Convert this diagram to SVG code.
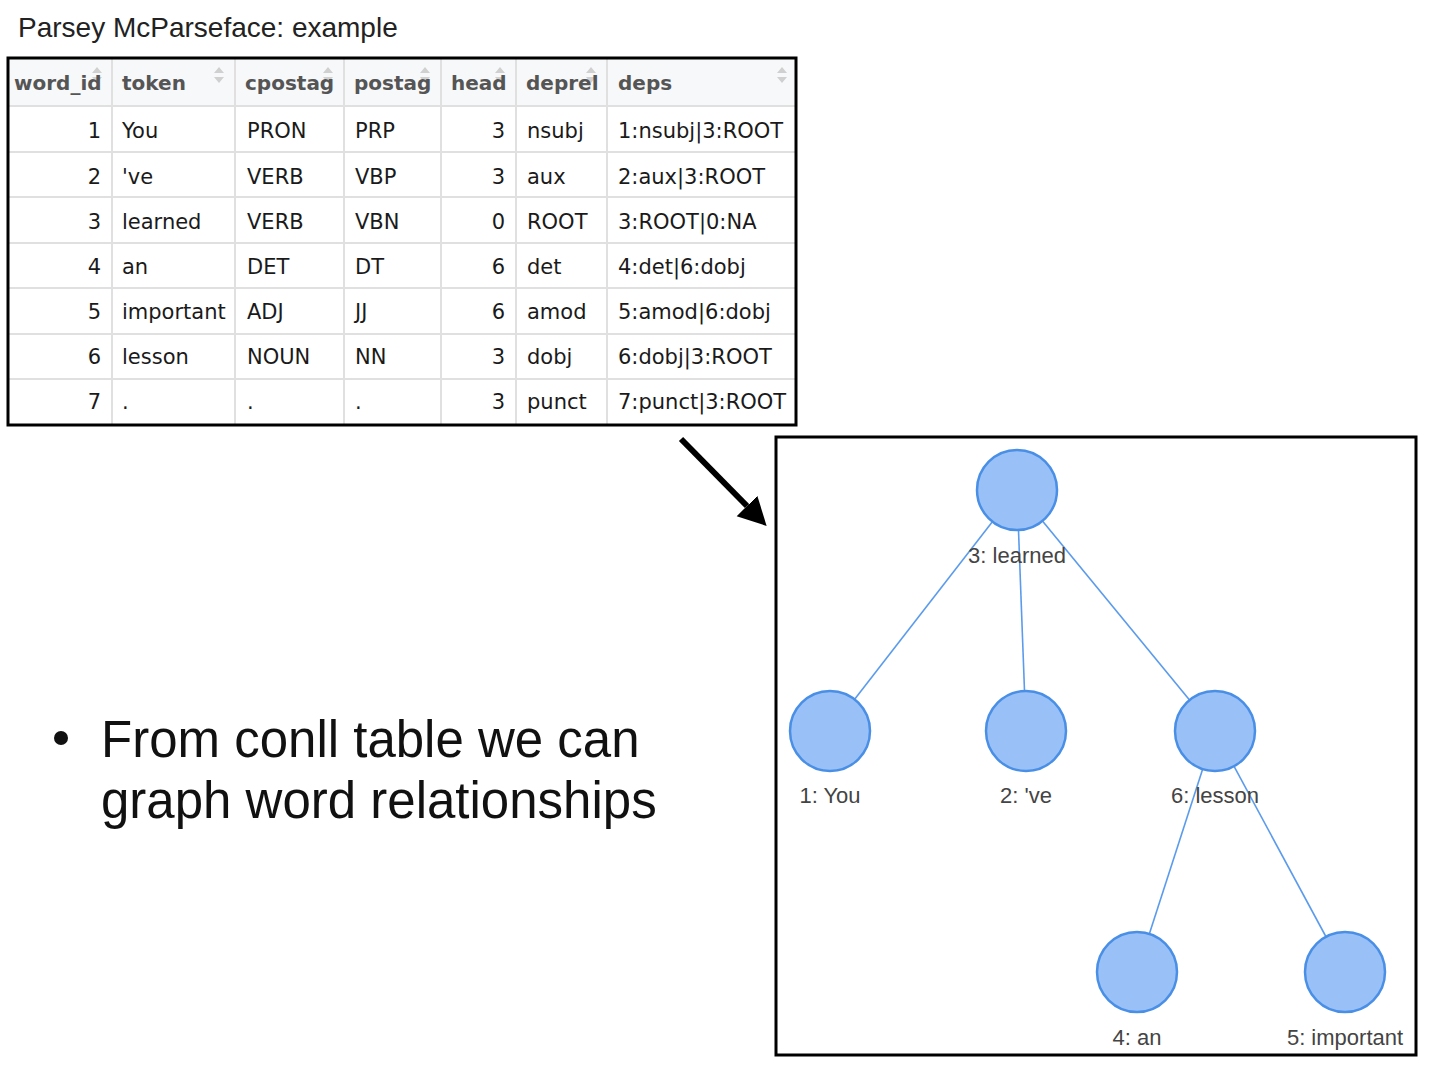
<svg xmlns="http://www.w3.org/2000/svg" width="1430" height="1070" viewBox="0 0 1430 1070">
<style>
.title{font-family:"Liberation Sans",Arial,sans-serif;font-size:28px;fill:#222}
.bullet{font-family:"Liberation Sans",Arial,sans-serif;font-size:51px;fill:#111}
.th{font-family:"DejaVu Sans",sans-serif;font-size:20px;font-weight:bold;fill:#555}
.td{font-family:"DejaVu Sans",sans-serif;font-size:21px;fill:#1a1a1a}
.r{text-anchor:end}
.grid{stroke:#e0e0e0;stroke-width:2}
.sort{fill:#d0d0d0}
.node circle{fill:#99c1f7;stroke:#4a8fe6;stroke-width:2.5}
.node text{font-family:"Liberation Sans",Arial,sans-serif;font-size:22px;fill:#444;text-anchor:middle}
.edge{stroke:#5b9bec;stroke-width:1.6}
</style>
<defs>
<marker id="ah" markerUnits="userSpaceOnUse" markerWidth="30" markerHeight="30" refX="0" refY="15" orient="auto" viewBox="0 0 30 30">
<path d="M0,0.5 L28,15 L0,29.5 z" fill="#000"/>
</marker>
<g id="sorticon"><path d="M-5,-2 L0,-8 L5,-2 z M-5,2 L0,8 L5,2 z"/></g>
</defs>
<rect width="1430" height="1070" fill="#fff"/>
<text class="title" x="18" y="37">Parsey McParseface: example</text>

<g id="table">
<rect x="8" y="58" width="788" height="48" fill="#f7f8f9"/>
<g class="grid">
<line x1="8" y1="106" x2="796" y2="106"/>
<line x1="8" y1="152" x2="796" y2="152"/>
<line x1="8" y1="197" x2="796" y2="197"/>
<line x1="8" y1="243" x2="796" y2="243"/>
<line x1="8" y1="288" x2="796" y2="288"/>
<line x1="8" y1="334" x2="796" y2="334"/>
<line x1="8" y1="379" x2="796" y2="379"/>
<line x1="112" y1="58" x2="112" y2="425"/>
<line x1="235" y1="58" x2="235" y2="425"/>
<line x1="344" y1="58" x2="344" y2="425"/>
<line x1="441" y1="58" x2="441" y2="425"/>
<line x1="516" y1="58" x2="516" y2="425"/>
<line x1="607" y1="58" x2="607" y2="425"/>
</g>
<g class="sort">
<use href="#sorticon" x="97" y="75"/>
<use href="#sorticon" x="219" y="75"/>
<use href="#sorticon" x="328" y="75"/>
<use href="#sorticon" x="425" y="75"/>
<use href="#sorticon" x="500" y="75"/>
<use href="#sorticon" x="591" y="75"/>
<use href="#sorticon" x="782" y="75"/>
</g>
<text class="th" x="14" y="90">word_id</text>
<text class="th" x="122" y="90">token</text>
<text class="th" x="245" y="90">cpostag</text>
<text class="th" x="354" y="90">postag</text>
<text class="th" x="451" y="90">head</text>
<text class="th" x="526" y="90">deprel</text>
<text class="th" x="618" y="90">deps</text>

<g class="td">
<text class="r" x="101" y="138">1</text><text x="122" y="138">You</text><text x="247" y="138">PRON</text><text x="355" y="138">PRP</text><text class="r" x="505" y="138">3</text><text x="527" y="138">nsubj</text><text x="618" y="138">1:nsubj|3:ROOT</text>
<text class="r" x="101" y="183.5">2</text><text x="122" y="183.5">'ve</text><text x="247" y="183.5">VERB</text><text x="355" y="183.5">VBP</text><text class="r" x="505" y="183.5">3</text><text x="527" y="183.5">aux</text><text x="618" y="183.5">2:aux|3:ROOT</text>
<text class="r" x="101" y="229">3</text><text x="122" y="229">learned</text><text x="247" y="229">VERB</text><text x="355" y="229">VBN</text><text class="r" x="505" y="229">0</text><text x="527" y="229">ROOT</text><text x="618" y="229">3:ROOT|0:NA</text>
<text class="r" x="101" y="274">4</text><text x="122" y="274">an</text><text x="247" y="274">DET</text><text x="355" y="274">DT</text><text class="r" x="505" y="274">6</text><text x="527" y="274">det</text><text x="618" y="274">4:det|6:dobj</text>
<text class="r" x="101" y="319">5</text><text x="122" y="319">important</text><text x="247" y="319">ADJ</text><text x="355" y="319">JJ</text><text class="r" x="505" y="319">6</text><text x="527" y="319">amod</text><text x="618" y="319">5:amod|6:dobj</text>
<text class="r" x="101" y="364">6</text><text x="122" y="364">lesson</text><text x="247" y="364">NOUN</text><text x="355" y="364">NN</text><text class="r" x="505" y="364">3</text><text x="527" y="364">dobj</text><text x="618" y="364">6:dobj|3:ROOT</text>
<text class="r" x="101" y="409">7</text><text x="122" y="409">.</text><text x="247" y="409">.</text><text x="355" y="409">.</text><text class="r" x="505" y="409">3</text><text x="527" y="409">punct</text><text x="618" y="409">7:punct|3:ROOT</text>
</g>
<rect x="8" y="58" width="788" height="367" fill="none" stroke="#000" stroke-width="3"/>
</g>

<line x1="681" y1="439" x2="747" y2="506" stroke="#000" stroke-width="6" marker-end="url(#ah)"/>

<circle cx="61" cy="738" r="7" fill="#111"/>
<text class="bullet" x="101" y="757">From conll table we can</text>
<text class="bullet" x="101" y="818">graph word relationships</text>

<rect x="776" y="437" width="640" height="618" fill="#fff" stroke="#000" stroke-width="3"/>

<g id="connectors">
<line class="edge" x1="1017" y1="490" x2="830" y2="731"/>
<line class="edge" x1="1017" y1="490" x2="1026" y2="731"/>
<line class="edge" x1="1017" y1="490" x2="1215" y2="731"/>
<line class="edge" x1="1215" y1="731" x2="1137" y2="972"/>
<line class="edge" x1="1215" y1="731" x2="1345" y2="972"/>
</g>

<g id="node3" class="node"><circle cx="1017" cy="490" r="40"/><text x="1017" y="563">3: learned</text></g>
<g id="node1" class="node"><circle cx="830" cy="731" r="40"/><text x="830" y="803">1: You</text></g>
<g id="node2" class="node"><circle cx="1026" cy="731" r="40"/><text x="1026" y="803">2: 've</text></g>
<g id="node6" class="node"><circle cx="1215" cy="731" r="40"/><text x="1215" y="803">6: lesson</text></g>
<g id="node4" class="node"><circle cx="1137" cy="972" r="40"/><text x="1137" y="1045">4: an</text></g>
<g id="node5" class="node"><circle cx="1345" cy="972" r="40"/><text x="1345" y="1045">5: important</text></g>
</svg>
